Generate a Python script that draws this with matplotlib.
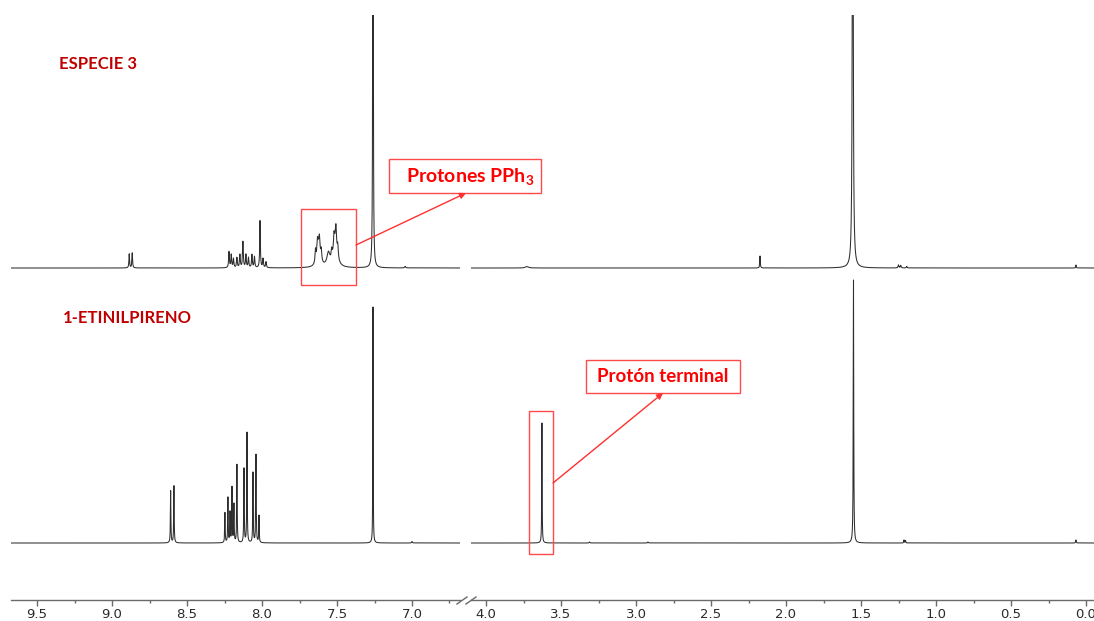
import numpy as np
import matplotlib
matplotlib.use("Agg")
import matplotlib.pyplot as plt
from matplotlib.patches import Rectangle, FancyArrowPatch
from matplotlib.lines import Line2D
from matplotlib.ticker import MultipleLocator, FormatStrFormatter

# ---------------- data (peak lists) ----------------
# ESPECIE 3 : chemical shift (ppm), intensity, half width (ppm)
top_ppm = [8.885, 8.865,
           8.220, 8.205, 8.190, 8.167, 8.147, 8.127, 8.107, 8.090, 8.067, 8.050, 8.013, 7.993, 7.973,
           7.643, 7.630, 7.617, 7.605, 7.622,
           7.535, 7.520, 7.507, 7.495, 7.512, 7.557,
           7.260, 7.045, 3.727, 2.173, 1.555, 1.250, 1.235, 1.195, 0.067]
top_int = [14, 15,
           16, 13, 9, 10, 13, 26, 13, 10, 13, 11, 47, 9, 6,
           13, 14, 13, 11, 20,
           9, 14, 19, 12, 24, 13,
           900, 1.5, 1.5, 12, 700, 3, 2.5, 1.5, 3]
top_hw = [0.0025, 0.0025,
          0.003, 0.003, 0.003, 0.003, 0.003, 0.003, 0.003, 0.003, 0.003, 0.003, 0.0025, 0.003, 0.003,
          0.004, 0.004, 0.004, 0.004, 0.012,
          0.004, 0.004, 0.004, 0.004, 0.015, 0.012,
          0.0015, 0.004, 0.012, 0.002, 0.0028, 0.003, 0.003, 0.003, 0.002]

# 1-ETINILPIRENO
bot_ppm = [8.609, 8.587,
           8.247, 8.227, 8.213, 8.200, 8.187, 8.167, 8.120, 8.100, 8.060, 8.040, 8.020,
           7.260, 7.000, 3.627, 3.310, 2.920, 1.550, 1.213, 1.203, 0.067]
bot_int = [52, 57,
           30, 45, 30, 55, 38, 78, 74, 110, 70, 88, 27,
           236, 1.5, 120, 1, 1, 263, 3, 2.5, 3]
bot_hw = [0.0018, 0.0018,
          0.0018, 0.0018, 0.0018, 0.0018, 0.0018, 0.0018, 0.0018, 0.0018, 0.0018, 0.0018, 0.0018,
          0.0013, 0.003, 0.0015, 0.003, 0.003, 0.0018, 0.002, 0.002, 0.002]

tick_major = 0.5
tick_minor = 0.25

title_top = "ESPECIE 3"
title_bot = "1-ETINILPIRENO"
label_pph3 = r"Protones PPh$_{\mathbf{3}}$"
label_term = "Protón terminal"

# ---------------- figure ----------------
W, H = 1094, 621
plt.rcParams["mathtext.fontset"] = "custom"
plt.rcParams["mathtext.bf"] = "Lato:bold"
plt.rcParams["mathtext.rm"] = "Lato:bold"
fig = plt.figure(figsize=(W / 100, H / 100), dpi=100)


def fx(px):
    return px / W


def fy(py):
    return 1 - py / H


def spectrum(grid, ppm, inten, hw):
    y = np.zeros_like(grid)
    for p, h, w in zip(ppm, inten, hw):
        y += h * w ** 2 / ((grid - p) ** 2 + w ** 2)
    return y


base_top = 600 - 268
base_bot = 600 - 543
ymax = 585

ax_l = fig.add_axes([fx(11), 21 / H, (460 - 11) / W, ymax / H])
ax_r = fig.add_axes([fx(471), 21 / H, (1094 - 471) / W, ymax / H])
ax_l.set_xlim(9.5 + (37 - 11) / 150, 7.0 - (460 - 412) / 150)
ax_r.set_xlim(4.0 + (486 - 471) / 150, 4.0 - (1094 - 486) / 150)

for ax in (ax_l, ax_r):
    lo, hi = sorted(ax.get_xlim())
    grid = np.linspace(lo - 0.01, hi + 0.01, 60001)
    ax.plot(grid, base_top + spectrum(grid, top_ppm, top_int, top_hw), color="#2e2e2e", lw=0.75)
    ax.plot(grid, base_bot + spectrum(grid, bot_ppm, bot_int, bot_hw), color="#2e2e2e", lw=0.75)
    ax.set_ylim(0, ymax)
    ax.set_yticks([])
    for s in ("left", "right", "top"):
        ax.spines[s].set_visible(False)
    ax.spines["bottom"].set_color("#6a6a6a")
    ax.spines["bottom"].set_linewidth(1.0)
    ax.patch.set_alpha(0)
    ax.xaxis.set_major_locator(MultipleLocator(tick_major))
    ax.xaxis.set_minor_locator(MultipleLocator(tick_minor))
    ax.xaxis.set_major_formatter(FormatStrFormatter("%.1f"))
    ax.tick_params(axis="x", which="major", length=4, width=1, color="#6a6a6a",
                   labelsize=9.5, labelcolor="#2a2a2a", pad=1.5)
    ax.tick_params(axis="x", which="minor", length=2, width=1, color="#6a6a6a")
    for lab in ax.get_xticklabels():
        lab.set_fontfamily("DejaVu Sans")

# axis break marks
for x0 in (457, 466):
    fig.add_artist(Line2D([fx(x0), fx(x0 + 10)], [fy(604), fy(597)],
                          transform=fig.transFigure, color="#6a6a6a", lw=1))

# spectrum titles
fig.text(fx(98), fy(64), title_top, ha="center", va="center", fontsize=12,
         fontweight="bold", family="Lato", color="#C00000")
fig.text(fx(127), fy(318), title_bot, ha="center", va="center", fontsize=12,
         fontweight="bold", family="Lato", color="#C00000")

box_ec = "#FF4a4a"


def rect(x0, y0, x1, y1):
    fig.add_artist(Rectangle((fx(x0), fy(y1)), (x1 - x0) / W, (y1 - y0) / H,
                             transform=fig.transFigure, fill=False, ec=box_ec, lw=1))


def arrow(x0, y0, x1, y1):
    fig.add_artist(FancyArrowPatch((fx(x0), fy(y0)), (fx(x1), fy(y1)),
                                   transform=fig.transFigure, arrowstyle="-|>",
                                   mutation_scale=9, color="#FF3030", lw=1,
                                   shrinkA=0, shrinkB=0))


# PPh3 annotation
rect(301, 209, 356, 285)
rect(389, 159, 541, 193)
arrow(356, 245, 466, 193)
fig.text(fx(470), fy(177), label_pph3, ha="center", va="center", fontsize=14,
         fontweight="bold", family="Lato", color="#FF0000")

# terminal proton annotation
rect(529, 411, 553, 554)
rect(586, 360, 740, 393)
arrow(553, 483, 663, 393)
fig.text(fx(663), fy(377), label_term, ha="center", va="center", fontsize=13.5,
         fontweight="bold", family="Lato", color="#FF0000")

fig.savefig("out.png", dpi=100)
